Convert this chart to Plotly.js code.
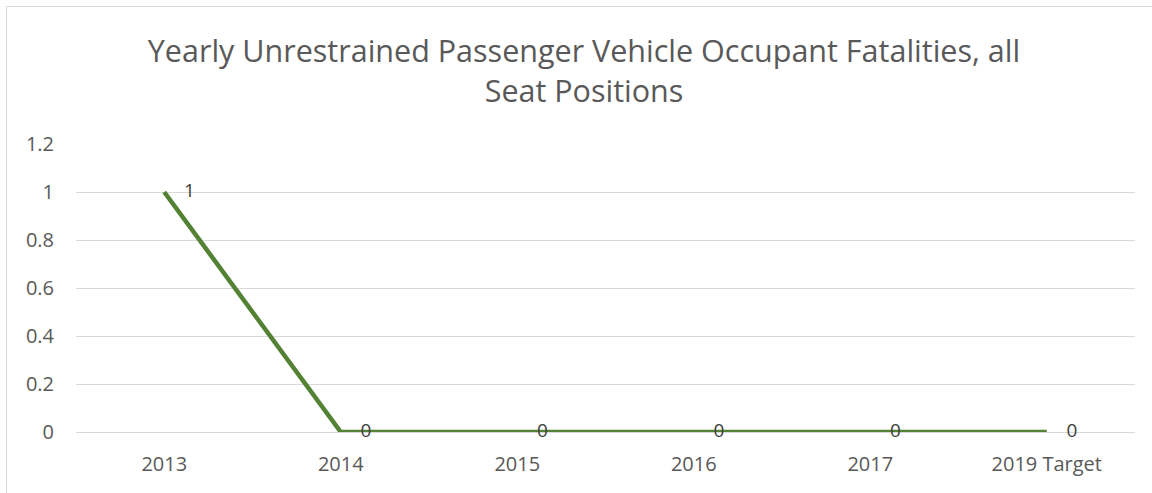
<!DOCTYPE html>
<html>
<head>
<meta charset="utf-8">
<script src="https://cdn.plot.ly/plotly-3.0.1.min.js"></script>
<style>
  html, body { margin: 0; padding: 0; background: #ffffff; overflow: hidden; }
  #frame { position: absolute; left: 6px; top: 6px; width: 1300px; height: 700px; border: 1px solid #d9d9d9; box-sizing: border-box; }
  #chart { position: absolute; left: 0; top: 0; width: 1152px; height: 493px; }
</style>
</head>
<body>
<div id="frame"></div>
<div id="chart"></div>
<script>
const categories = ["2013", "2014", "2015", "2016", "2017", "2019 Target"];
const fatalities = [1, 0, 0, 0, 0, 0];
const yTickValues = [0, 0.2, 0.4, 0.6, 0.8, 1, 1.2];
const yTickLabels = ["0", "0.2", "0.4", "0.6", "0.8", "1", "1.2"];
const chartTitle = "Yearly Unrestrained Passenger Vehicle Occupant Fatalities, all<br>Seat Positions";

const fontFamily = "Open Sans, Noto Sans, Liberation Sans, sans-serif";
const textGray = "#595959";

const trace = {
  type: "scatter",
  mode: "lines+markers+text",
  x: categories,
  y: fatalities,
  text: fatalities.map(String),
  textposition: "middle right",
  textfont: { family: fontFamily, size: 19, color: "#404040" },
  marker: { size: 30, color: "rgba(0,0,0,0)" },
  line: { color: "#548235", width: 4.5 },
  hoverinfo: "x+y",
  cliponaxis: false
};

const layout = {
  width: 1152,
  height: 493,
  paper_bgcolor: "rgba(0,0,0,0)",
  plot_bgcolor: "rgba(0,0,0,0)",
  margin: { l: 76, r: 17, t: 144, b: 61 },
  showlegend: false,
  font: { family: fontFamily, color: textGray },
  title: {
    text: chartTitle,
    font: { family: fontFamily, size: 30.5, color: textGray },
    xref: "container",
    yref: "container",
    x: 584 / 1152,
    xanchor: "center",
    y: 1 - 62 / 493,
    yanchor: "middle"
  },
  xaxis: {
    type: "category",
    range: [-0.5, 5.5],
    showgrid: false,
    showline: false,
    zeroline: false,
    ticks: "",
    ticklabelstandoff: 18,
    tickfont: { family: fontFamily, size: 20, color: textGray }
  },
  yaxis: {
    range: [0, 1.2],
    tickvals: yTickValues,
    ticktext: yTickLabels,
    showgrid: true,
    gridcolor: "#d9d9d9",
    gridwidth: 1,
    zeroline: true,
    zerolinecolor: "#d9d9d9",
    zerolinewidth: 1,
    showline: false,
    ticks: "",
    ticklabelstandoff: 21,
    tickfont: { family: fontFamily, size: 20, color: textGray }
  }
};

Plotly.newPlot("chart", [trace], layout, { displayModeBar: false, staticPlot: true });
</script>
</body>
</html>
